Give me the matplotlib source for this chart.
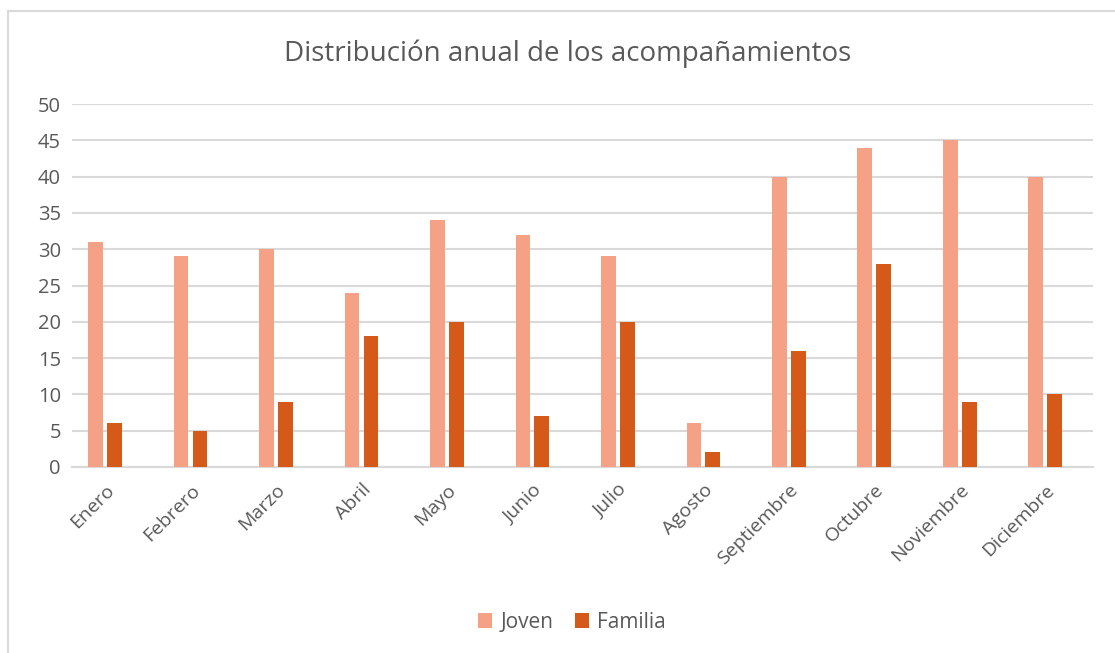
import numpy as np
import matplotlib.pyplot as plt
from matplotlib.lines import Line2D

meses = ['Enero', 'Febrero', 'Marzo', 'Abril', 'Mayo', 'Junio', 'Julio',
         'Agosto', 'Septiembre', 'Octubre', 'Noviembre', 'Diciembre']
joven = [31, 29, 30, 24, 34, 32, 29, 6, 40, 44, 45, 40]
familia = [6, 5, 9, 18, 20, 7, 20, 2, 16, 28, 9, 10]

plt.rcParams['font.family'] = ['Open Sans', 'DejaVu Sans']
gris = '#595959'

fig = plt.figure(figsize=(11.15, 6.53), dpi=100)
ax = fig.add_axes([72 / 1115, 1 - 467 / 653, (1093 - 72) / 1115, (467 - 104) / 653])

x = np.arange(len(meses))
ancho = 0.175
ax.bar(x - 0.111, joven, ancho, color='#F4A185', label='Joven', zorder=3)
ax.bar(x + 0.111, familia, ancho, color='#D55A19', label='Familia', zorder=3)

ax.set_xlim(-0.386, 11.556)
ax.set_ylim(0, 50)
ax.set_yticks(range(0, 51, 5))
ax.yaxis.grid(True, color='#D9D9D9', linewidth=1.5, zorder=0)
ax.set_axisbelow(True)
for s in ['top', 'right', 'left']:
    ax.spines[s].set_visible(False)
ax.spines['bottom'].set_color('#D9D9D9')
ax.spines['bottom'].set_linewidth(1.5)
ax.tick_params(axis='both', length=0, colors=gris, labelsize=14.5)
ax.tick_params(axis='y', pad=8)
ax.set_xticks(x)
ax.set_xticklabels(meses, rotation=45, ha='right', va='top', rotation_mode='anchor')
ax.tick_params(axis='x', pad=10, labelsize=14)

fig.text(0.509, 1 - 54 / 653, 'Distribución anual de los acompañamientos',
         ha='center', va='center', fontsize=20, color=gris)

fig.legend(loc='center', bbox_to_anchor=(0.513, 1 - 622 / 653), ncol=2, frameon=False,
           fontsize=15, labelcolor=gris, handlelength=0.7, handleheight=0.7,
           handletextpad=0.4, columnspacing=1.0)

fig.add_artist(Line2D([8 / 1115, 8 / 1115], [0, 1 - 11 / 653], transform=fig.transFigure,
                      color='#D9D9D9', linewidth=1.5))
fig.add_artist(Line2D([8 / 1115, 1], [1 - 11 / 653, 1 - 11 / 653], transform=fig.transFigure,
                      color='#D9D9D9', linewidth=1.5))

fig.savefig('out.png', dpi=100)
